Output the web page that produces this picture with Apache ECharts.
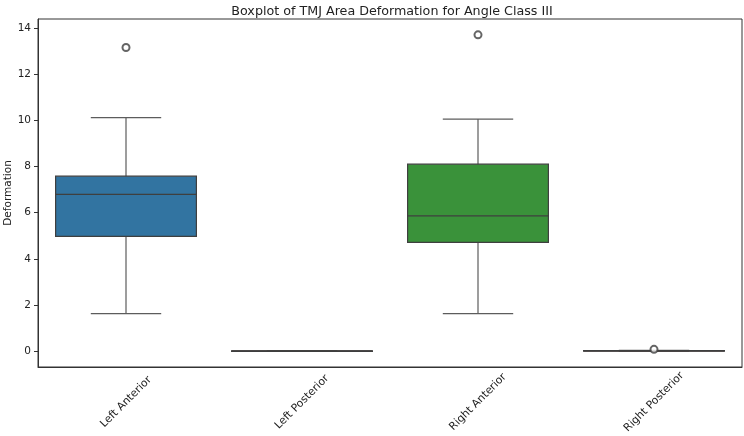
<!DOCTYPE html>
<html>
<head>
<meta charset="utf-8">
<script src="https://cdn.jsdelivr.net/npm/echarts@6/dist/echarts.min.js"></script>
<style>
  html, body { margin: 0; padding: 0; background: #fff; }
  #chart { width: 744px; height: 436px; }
</style>
</head>
<body>
<div id="chart"></div>
<script>
// box stats
const categories = ['Left Anterior', 'Left Posterior', 'Right Anterior', 'Right Posterior']
const whiskerLow = [1.63, 0.0, 1.63, 0.0]
const q1 = [4.97, 0.005, 4.71, 0.005]
const median = [6.79, 0.01, 5.86, 0.012]
const q3 = [7.58, 0.015, 8.10, 0.02]
const whiskerHigh = [10.11, 0.03, 10.05, 0.035]
// [category index, value]
const outliers = [[0, 13.15], [2, 13.70], [3, 0.08]]
const yTicks = [0, 2, 4, 6, 8, 10, 12, 14]

const palette = ['#3274a1', '#e1812c', '#3a923a', '#c03d3e']
const lineColor = '#3f3f3f'
const font = 'DejaVu Sans'

const boxData = categories.map((c, i) => [i, whiskerLow[i], q1[i], median[i], q3[i], whiskerHigh[i]])

const renderBox = (params, api) => {
  const idx = api.value(0)
  const band = api.size([1, 0])[0]
  const half = band * 0.8 / 2
  const cap = half / 2
  const low = api.coord([idx, api.value(1)])
  const p1 = api.coord([idx, api.value(2)])
  const pm = api.coord([idx, api.value(3)])
  const p3 = api.coord([idx, api.value(4)])
  const high = api.coord([idx, api.value(5)])
  const x = low[0]
  const wStyle = { stroke: '#5c5c5c', lineWidth: 1.2 }
  return {
    type: 'group',
    children: [
      { type: 'line', shape: { x1: x, y1: p1[1], x2: x, y2: low[1] }, style: wStyle },
      { type: 'line', shape: { x1: x, y1: p3[1], x2: x, y2: high[1] }, style: wStyle },
      { type: 'line', shape: { x1: x - cap, y1: low[1], x2: x + cap, y2: low[1] }, style: wStyle },
      { type: 'line', shape: { x1: x - cap, y1: high[1], x2: x + cap, y2: high[1] }, style: wStyle },
      {
        type: 'rect',
        shape: { x: x - half, y: p3[1], width: half * 2, height: Math.max(p1[1] - p3[1], 0.5) },
        style: { fill: palette[idx], stroke: lineColor, lineWidth: 1.2 }
      },
      { type: 'line', shape: { x1: x - half, y1: pm[1], x2: x + half, y2: pm[1] }, style: { stroke: lineColor, lineWidth: 1.4 } }
    ]
  }
}

const chart = echarts.init(document.getElementById('chart'))
const option = {
  animation: false,
  title: {
    text: 'Boxplot of TMJ Area Deformation for Angle Class III',
    left: 387,
    textAlign: 'center',
    top: 0,
    textStyle: { fontFamily: font, fontSize: 12.7, fontWeight: 'normal', color: '#222' }
  },
  grid: {
    left: 38,
    right: 2,
    top: 19,
    bottom: 69,
    outerBoundsMode: 'none',
    containLabel: false,
    show: true,
    borderColor: '#333',
    borderWidth: 1,
    backgroundColor: 'transparent'
  },
  xAxis: {
    type: 'category',
    data: categories,
    axisLine: { onZero: false, lineStyle: { color: '#333' } },
    axisTick: { alignWithLabel: true, length: 4, lineStyle: { color: '#333' } },
    axisLabel: {
      rotate: 45,
      align: 'center',
      verticalAlign: 'middle',
      fontFamily: font,
      fontSize: 10.8,
      color: '#222',
      margin: 35
    },
    splitLine: { show: false }
  },
  yAxis: {
    type: 'value',
    min: -0.685,
    max: 14.385,
    name: 'Deformation',
    nameLocation: 'middle',
    nameGap: 24,
    nameMoveOverlap: false,
    nameTextStyle: { fontFamily: font, fontSize: 10.5, color: '#222' },
    axisLine: { show: true, lineStyle: { color: '#333' } },
    axisTick: { show: true, length: 4, customValues: yTicks, lineStyle: { color: '#333' } },
    axisLabel: { customValues: yTicks, fontFamily: font, fontSize: 10.5, color: '#222', margin: 7 },
    splitLine: { show: false }
  },
  series: [
    {
      type: 'custom',
      renderItem: renderBox,
      data: boxData,
      encode: { x: 0, y: [1, 2, 3, 4, 5] },
      z: 2
    },
    {
      type: 'scatter',
      data: outliers,
      symbol: 'emptyCircle',
      symbolSize: 7,
      itemStyle: { color: lineColor, borderColor: lineColor, borderWidth: 1.1 },
      z: 3
    }
  ]
}
chart.setOption(option)
</script>
</body>
</html>
